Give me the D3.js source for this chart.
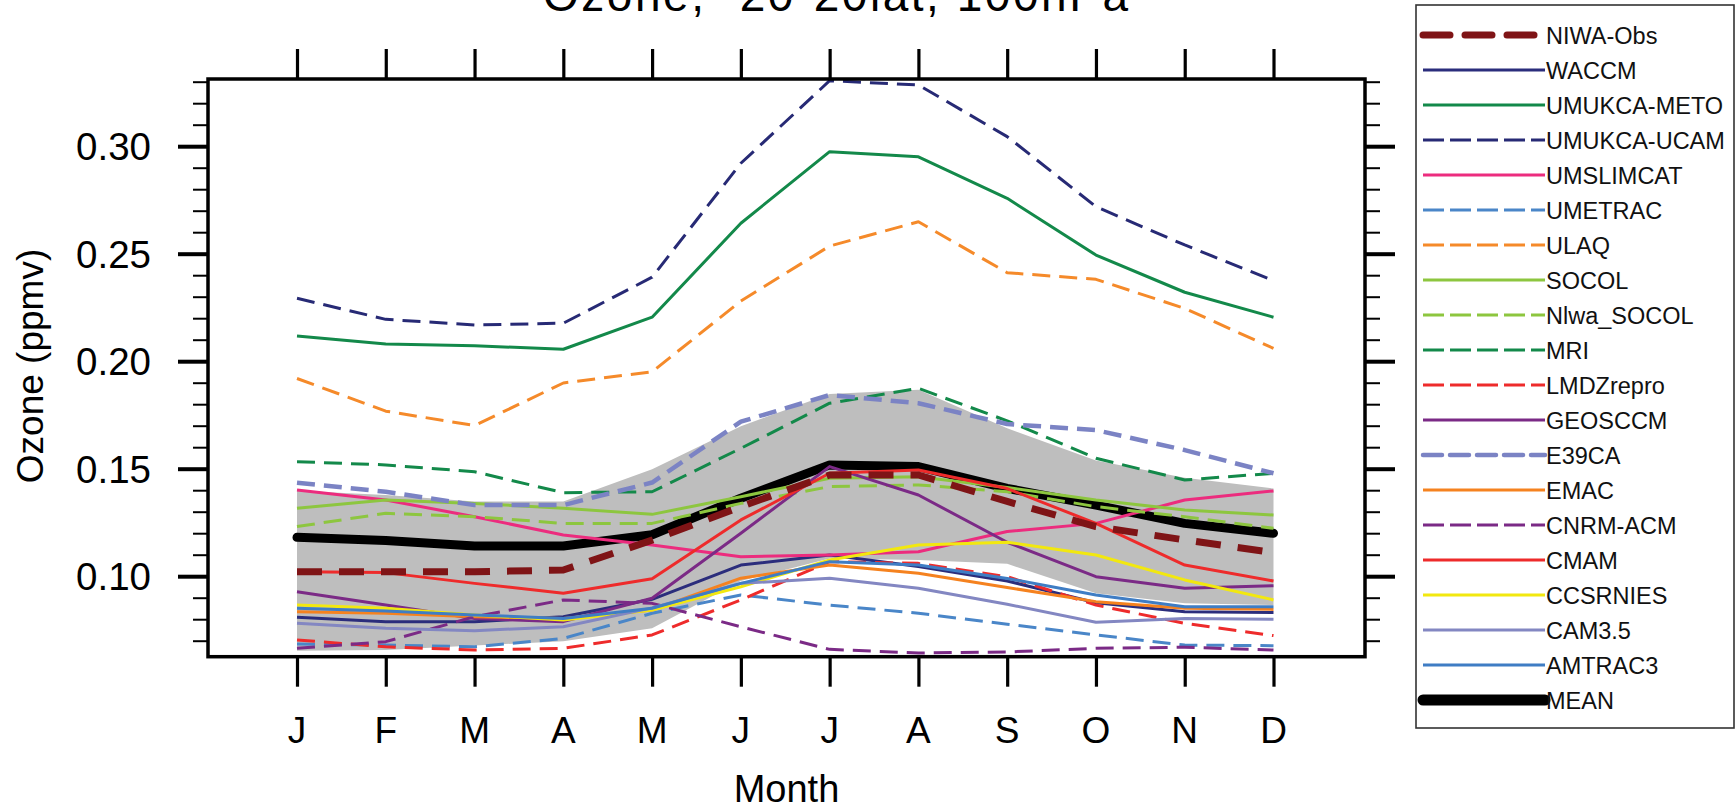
<!DOCTYPE html>
<html>
<head>
<meta charset="utf-8">
<script src="https://cdn.jsdelivr.net/npm/d3@7"></script>
<style>
  html, body { margin: 0; padding: 0; background: #fff; }
  svg { display: block; font-family: "Liberation Sans", Arial, Helvetica, sans-serif; }
</style>
</head>
<body>
<svg id="chart" width="1736" height="805"></svg>
<script>
// ---------- data ----------
const months = ["J","F","M","A","M","J","J","A","S","O","N","D"];
const yMajorTicks = [0.10, 0.15, 0.20, 0.25, 0.30];
const yTickLabels = ["0.10", "0.15", "0.20", "0.25", "0.30"];
const yMinorTicks = [0.07,0.08,0.09,0.11,0.12,0.13,0.14,0.16,0.17,0.18,0.19,0.21,0.22,0.23,0.24,0.26,0.27,0.28,0.29,0.31,0.32,0.33];

const bandUpper = [0.140, 0.138, 0.135, 0.135, 0.150, 0.170, 0.185, 0.187, 0.169, 0.154, 0.146, 0.141];
const bandLower = [0.0656, 0.0659, 0.068, 0.070, 0.076, 0.098, 0.1085, 0.1078, 0.106, 0.0923, 0.0877, 0.0868];

const NIWA_Obs    = [0.1023, 0.1023, 0.1023, 0.1031, 0.1170, 0.1326, 0.1473, 0.1473, 0.1350, 0.1233, 0.1171, 0.1112];
const WACCM       = [0.0811, 0.0791, 0.0791, 0.0814, 0.0895, 0.1054, 0.1101, 0.1047, 0.0980, 0.0879, 0.0837, 0.0833];
const UMUKCA_METO = [0.2120, 0.2082, 0.2074, 0.2058, 0.2207, 0.2644, 0.2977, 0.2953, 0.2760, 0.2496, 0.2323, 0.2207];
const UMUKCA_UCAM = [0.2295, 0.2197, 0.2171, 0.2179, 0.2393, 0.2923, 0.3307, 0.3287, 0.3047, 0.2721, 0.2543, 0.2377];
const UMSLIMCAT   = [0.1403, 0.1357, 0.1279, 0.1194, 0.1147, 0.1093, 0.1101, 0.1116, 0.1210, 0.1248, 0.1357, 0.1399];
const UMETRAC     = [0.0687, 0.0682, 0.0674, 0.0713, 0.0830, 0.0915, 0.0868, 0.0830, 0.0779, 0.0729, 0.0682, 0.0679];
const ULAQ        = [0.1922, 0.1770, 0.1703, 0.1901, 0.1953, 0.2282, 0.2538, 0.2651, 0.2414, 0.2383, 0.2248, 0.2062];
const SOCOL       = [0.1318, 0.1357, 0.1341, 0.1318, 0.1290, 0.1372, 0.1458, 0.1465, 0.1415, 0.1357, 0.1310, 0.1287];
const Nlwa_SOCOL  = [0.1233, 0.1295, 0.1279, 0.1248, 0.1248, 0.1341, 0.1419, 0.1427, 0.1395, 0.1326, 0.1279, 0.1225];
const MRI         = [0.1535, 0.1520, 0.1488, 0.1391, 0.1395, 0.1597, 0.1807, 0.1876, 0.1725, 0.1551, 0.1450, 0.1481];
const LMDZrepro   = [0.0706, 0.0674, 0.0659, 0.0667, 0.0729, 0.0892, 0.1070, 0.1062, 0.1000, 0.0868, 0.0783, 0.0726];
const GEOSCCM     = [0.0930, 0.0868, 0.0806, 0.0791, 0.0900, 0.1202, 0.1512, 0.1380, 0.1160, 0.1000, 0.0946, 0.0958];
const E39CA       = [0.1437, 0.1395, 0.1333, 0.1333, 0.1438, 0.1721, 0.1845, 0.1807, 0.1710, 0.1682, 0.1589, 0.1481];
const EMAC        = [0.0837, 0.0830, 0.0814, 0.0806, 0.0845, 0.0993, 0.1054, 0.1016, 0.0950, 0.0884, 0.0853, 0.0848];
const CNRM_ACM    = [0.0667, 0.0698, 0.0814, 0.0892, 0.0876, 0.0767, 0.0662, 0.0645, 0.0650, 0.0667, 0.0672, 0.0659];
const CMAM        = [0.1023, 0.1019, 0.0969, 0.0923, 0.0990, 0.1264, 0.1481, 0.1496, 0.1410, 0.1248, 0.1054, 0.0980];
const CCSRNIES    = [0.0868, 0.0853, 0.0822, 0.0799, 0.0845, 0.0953, 0.1078, 0.1147, 0.1160, 0.1101, 0.0985, 0.0892];
const CAM3_5      = [0.0783, 0.0760, 0.0749, 0.0767, 0.0855, 0.0969, 0.0993, 0.0946, 0.0872, 0.0788, 0.0806, 0.0802];
const AMTRAC3     = [0.0853, 0.0840, 0.0822, 0.0806, 0.0853, 0.0969, 0.1070, 0.1054, 0.0992, 0.0915, 0.0860, 0.0860];
const MEAN        = [0.1183, 0.1168, 0.1143, 0.1143, 0.1195, 0.1365, 0.1520, 0.1512, 0.1411, 0.1333, 0.1248, 0.1202];

const seriesNames = ["NIWA-Obs","WACCM","UMUKCA-METO","UMUKCA-UCAM","UMSLIMCAT","UMETRAC","ULAQ","SOCOL","Nlwa_SOCOL","MRI","LMDZrepro","GEOSCCM","E39CA","EMAC","CNRM-ACM","CMAM","CCSRNIES","CAM3.5","AMTRAC3","MEAN"];
const seriesValues = [NIWA_Obs, WACCM, UMUKCA_METO, UMUKCA_UCAM, UMSLIMCAT, UMETRAC, ULAQ, SOCOL, Nlwa_SOCOL, MRI, LMDZrepro, GEOSCCM, E39CA, EMAC, CNRM_ACM, CMAM, CCSRNIES, CAM3_5, AMTRAC3, MEAN];

// ---------- styles ----------
const DASH = "18,9", LDASH = "21,6";
const styles = {
  "NIWA-Obs":    {c:"#7f1416", w:7,   d:"25,17", ld:"27,15"},
  "WACCM":       {c:"#2b2d7c", w:3},
  "UMUKCA-METO": {c:"#13894a", w:3},
  "UMUKCA-UCAM": {c:"#272a75", w:3,   d:DASH, ld:LDASH},
  "UMSLIMCAT":   {c:"#ec2c7e", w:3},
  "UMETRAC":     {c:"#4a86c8", w:3,   d:DASH, ld:LDASH},
  "ULAQ":        {c:"#f58a2a", w:3,   d:DASH, ld:LDASH},
  "SOCOL":       {c:"#8dc63f", w:3},
  "Nlwa_SOCOL":  {c:"#8dc63f", w:3,   d:DASH, ld:LDASH},
  "MRI":         {c:"#13894a", w:3,   d:DASH, ld:LDASH},
  "LMDZrepro":   {c:"#ee2b2b", w:3,   d:DASH, ld:LDASH},
  "GEOSCCM":     {c:"#7b2a86", w:3},
  "E39CA":       {c:"#7b83c4", w:4.5, d:"18,9", ld:"19,8"},
  "EMAC":        {c:"#f5821f", w:3},
  "CNRM-ACM":    {c:"#7b2a86", w:3,   d:DASH, ld:LDASH},
  "CMAM":        {c:"#ee2b2b", w:3},
  "CCSRNIES":    {c:"#f2e80f", w:3},
  "CAM3.5":      {c:"#8387c2", w:3},
  "AMTRAC3":     {c:"#3f7dc4", w:3},
  "MEAN":        {c:"#000000", w:9}
};

// ---------- layout ----------
const svg = d3.select("#chart");
const plot = {left: 208, right: 1365, top: 79, bottom: 656.7};

const x = d3.scalePoint().domain(d3.range(12)).range([297, 1273.5]);
const y = d3.scaleLinear().domain([0.10, 0.30]).range([576.7, 146.7]);

svg.append("rect").attr("width",1736).attr("height",805).attr("fill","#fff");

svg.append("defs").append("clipPath").attr("id","clip")
  .append("rect").attr("x",plot.left).attr("y",plot.top)
  .attr("width",plot.right-plot.left).attr("height",plot.bottom-plot.top);

const g = svg.append("g").attr("clip-path","url(#clip)");

// band
const area = d3.area().x((d,i)=>x(i)).y0((d,i)=>y(bandLower[i])).y1(d=>y(d));
g.append("path").datum(bandUpper).attr("d", area).attr("fill","#bebebe");

const line = d3.line().x((d,i)=>x(i)).y(d=>y(d));

// draw order: MEAN first, models, then obs last
const order = [19].concat(d3.range(1,19)).concat([0]);
order.forEach(k => {
  const s = styles[seriesNames[k]];
  g.append("path").datum(seriesValues[k])
    .attr("d", line)
    .attr("fill","none")
    .attr("stroke", s.c)
    .attr("stroke-width", s.w)
    .attr("stroke-linejoin","round")
    .attr("stroke-linecap", k===19 ? "round" : "butt")
    .attr("stroke-dasharray", s.d || null);
});

// frame
svg.append("rect").attr("x",plot.left).attr("y",plot.top)
  .attr("width",plot.right-plot.left).attr("height",plot.bottom-plot.top)
  .attr("fill","none").attr("stroke","#000").attr("stroke-width",3.5);

// x ticks (top and bottom) via axes
const xAxisB = d3.axisBottom(x).tickSize(30).tickFormat("");
const xAxisT = d3.axisTop(x).tickSize(30).tickFormat("");
const gxB = svg.append("g").attr("transform",`translate(0,${plot.bottom})`).call(xAxisB);
const gxT = svg.append("g").attr("transform",`translate(0,${plot.top})`).call(xAxisT);
[gxB,gxT].forEach(a => {
  a.select(".domain").remove();
  a.selectAll("line").attr("stroke","#000").attr("stroke-width",3.2);
});
// month labels
svg.append("g").selectAll("text").data(months).join("text")
  .attr("x",(d,i)=>x(i)).attr("y",743)
  .attr("text-anchor","middle").attr("font-size",37).attr("fill","#000")
  .text(d=>d);

// y ticks
function yTicks(side){
  const sign = side === "left" ? -1 : 1;
  const x0 = side === "left" ? plot.left : plot.right;
  const ga = svg.append("g");
  ga.selectAll("line.maj").data(yMajorTicks).join("line")
    .attr("x1",x0).attr("x2",x0+sign*30).attr("y1",d=>y(d)).attr("y2",d=>y(d))
    .attr("stroke","#000").attr("stroke-width",4);
  ga.selectAll("line.min").data(yMinorTicks).join("line")
    .attr("x1",x0).attr("x2",x0+sign*15).attr("y1",d=>y(d)).attr("y2",d=>y(d))
    .attr("stroke","#000").attr("stroke-width",2);
}
yTicks("left"); yTicks("right");

svg.append("g").selectAll("text").data(yMajorTicks).join("text")
  .attr("x",151).attr("y",d=>y(d)+13.5)
  .attr("text-anchor","end").attr("font-size",38.5).attr("fill","#000")
  .text((d,i)=>yTickLabels[i]);

// axis titles
svg.append("text").attr("x",786.5).attr("y",802).attr("text-anchor","middle")
  .attr("font-size",38).text("Month");
svg.append("text").attr("transform","translate(43,366) rotate(-90)")
  .attr("text-anchor","middle").attr("font-size",37).text("Ozone (ppmv)");

// title (top cut off, as in the reference)
svg.append("text").attr("x",543).attr("y",10.5).attr("font-size",46)
  .attr("textLength",585).attr("lengthAdjust","spacing")
  .text("Ozone, -20-20lat, 100hPa");

// legend
const lg = svg.append("g");
lg.append("rect").attr("x",1416).attr("y",5).attr("width",1734-1416).attr("height",723)
  .attr("fill","#fff").attr("stroke","#333").attr("stroke-width",1.6);
seriesNames.forEach((name,i) => {
  const s = styles[name];
  const yy = 35 + 35*i;
  lg.append("line")
    .attr("x1",1423).attr("x2", name==="NIWA-Obs" ? 1537 : 1545)
    .attr("y1",yy).attr("y2",yy)
    .attr("stroke",s.c).attr("stroke-width", name==="MEAN" ? 11 : (name==="NIWA-Obs" ? 7 : s.w))
    .attr("stroke-linecap", (name==="MEAN"||name==="NIWA-Obs"||name==="E39CA") ? "round" : "butt")
    .attr("stroke-dasharray", s.ld || null);
  lg.append("text").attr("x",1546).attr("y",yy+8.5).attr("font-size",23.5)
    .attr("fill","#111").text(name);
});
</script>
</body>
</html>
